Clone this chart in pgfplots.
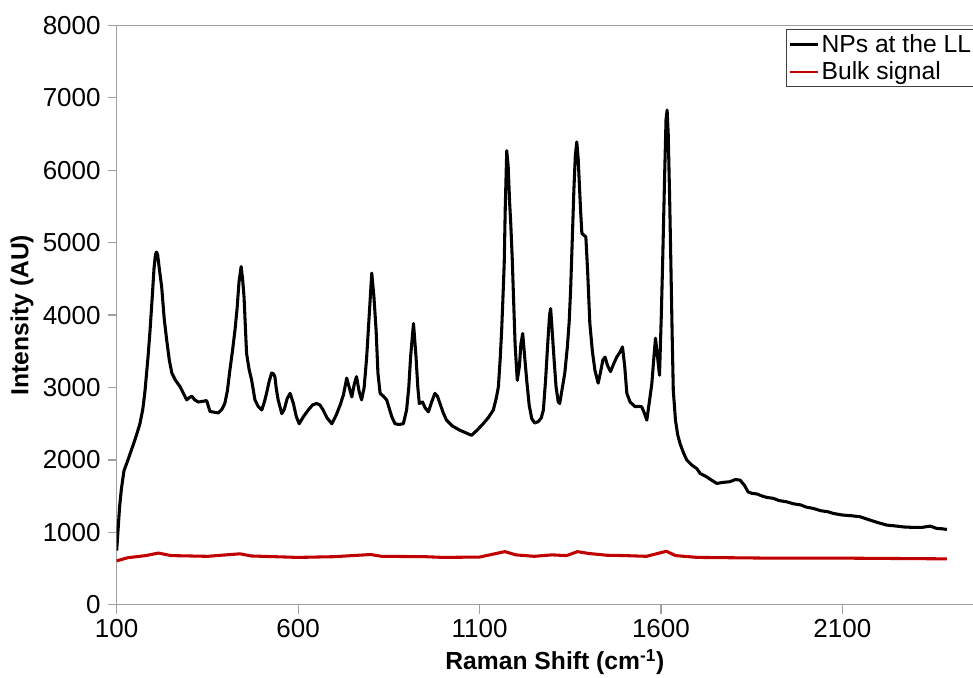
\documentclass[border=0pt]{standalone}
\usepackage{fontspec}
\setmainfont{Liberation Sans}
\usepackage{pgfplots}
\pgfplotsset{compat=1.18}
\definecolor{axgray}{RGB}{160,160,160}
\definecolor{bulkred}{RGB}{192,0,0}
\begin{document}
\begin{tikzpicture}
\path[use as bounding box] (-87.5pt,-54.2pt) rectangle (642.18pt,453.6pt);
\begin{axis}[
  at={(0pt,0pt)}, anchor=south west,
  scale only axis,
  width=644.9pt, height=434.6pt,
  xmin=100, xmax=2470, ymin=0, ymax=8000,
  xtick={100,600,1100,1600,2100},
  ytick={0,1000,...,8000},
  axis line style={axgray, line width=0.9pt},
  tick style={axgray, line width=0.9pt},
  tick align=outside,
  major tick length=6.5pt,
  xtick pos=bottom, ytick pos=left,
  /pgf/number format/assume math mode=true,
  /pgf/number format/1000 sep={},
  ticklabel style={font=\fontsize{19.5}{22}\selectfont, black},
  yticklabel style={xshift=-2pt},
  xticklabel style={yshift=-1pt},
  xlabel={\textbf{Raman Shift (cm\textsuperscript{-1})}},
  ylabel={\textbf{Intensity (AU)}},
  xlabel style={at={(axis description cs:0.5095,0)}, anchor=center, yshift=-43pt, font=\fontsize{18.5}{20}\selectfont},
  ylabel style={at={(axis description cs:-0.1101,0.5)}, anchor=center, rotate=0, font=\fontsize{18.5}{20}\selectfont},
  legend style={at={(rel axis cs:0.778,0.9936)}, anchor=north west, draw=black!75, line width=0.8pt, font=\fontsize{18.5}{22}\selectfont, inner sep=1.5pt, row sep=2pt, cells={anchor=west}},
  legend image code/.code={\draw[#1, line width=2pt] (0pt,0pt) -- (21pt,0pt);},
]
\addplot[black, line width=2.3pt, line join=round] coordinates {
(100,750)(104,1050)(108,1350)(113,1600)(120,1850)(131,2000)(145,2200)(155,2350)(164,2500)(172,2700)(178,2950)(186,3400)(192,3790)(198,4250)(203,4650)(207,4840)(210,4870)(213,4830)(218,4620)(224,4390)(231,3950)(238,3650)(245,3380)(252,3200)(262,3100)(275,3010)(284,2920)(293,2830)(300,2860)(307,2880)(315,2830)(325,2800)(338,2810)(348,2820)(357,2670)(368,2660)(380,2650)(390,2700)(398,2780)(405,2950)(412,3240)(419,3500)(426,3790)(432,4100)(437,4450)(443,4670)(447,4500)(451,4250)(455,3800)(458,3470)(465,3250)(472,3100)(481,2830)(490,2740)(500,2690)(507,2800)(513,2920)(520,3080)(527,3200)(532,3190)(536,3150)(540,2980)(545,2830)(555,2640)(562,2700)(570,2850)(578,2920)(587,2780)(595,2600)(603,2500)(615,2600)(628,2690)(640,2760)(651,2780)(660,2760)(669,2690)(680,2580)(693,2500)(705,2620)(716,2760)(725,2900)(734,3130)(741,3000)(748,2870)(755,3050)(761,3150)(768,2950)(775,2830)(782,3000)(789,3420)(796,4000)(803,4580)(809,4250)(815,3790)(820,3200)(826,2920)(835,2880)(844,2830)(858,2600)(867,2500)(878,2490)(890,2500)(899,2690)(905,3000)(910,3420)(918,3885)(925,3420)(930,3000)(934,2780)(943,2800)(950,2720)(959,2665)(968,2800)(977,2920)(984,2880)(991,2780)(1000,2650)(1009,2550)(1025,2470)(1046,2410)(1060,2380)(1078,2340)(1095,2420)(1110,2500)(1125,2590)(1138,2690)(1146,2850)(1152,3010)(1157,3400)(1161,3790)(1165,4300)(1168,4710)(1171,5500)(1175,6270)(1179,6050)(1183,5550)(1186,5270)(1190,4800)(1193,4345)(1198,3600)(1204,3100)(1210,3300)(1214,3600)(1219,3745)(1224,3450)(1230,3100)(1237,2750)(1244,2570)(1252,2510)(1262,2530)(1270,2580)(1276,2690)(1282,3100)(1288,3610)(1293,4000)(1296,4090)(1300,3800)(1305,3420)(1311,3000)(1317,2800)(1321,2780)(1327,2960)(1335,3200)(1342,3560)(1347,3900)(1351,4345)(1356,5100)(1360,5725)(1364,6200)(1368,6390)(1372,6150)(1375,5820)(1379,5400)(1382,5130)(1388,5100)(1393,5080)(1398,4600)(1404,3885)(1411,3500)(1418,3240)(1427,3060)(1433,3200)(1440,3380)(1446,3420)(1453,3300)(1461,3220)(1470,3330)(1478,3420)(1486,3480)(1494,3560)(1500,3300)(1506,2920)(1515,2800)(1529,2735)(1538,2740)(1547,2735)(1554,2650)(1561,2550)(1568,2800)(1575,3060)(1581,3450)(1585,3680)(1590,3450)(1596,3170)(1601,4000)(1605,4800)(1610,5900)(1614,6700)(1617,6830)(1620,6500)(1624,5600)(1627,4800)(1631,3700)(1634,2960)(1640,2550)(1646,2350)(1653,2220)(1662,2100)(1671,2000)(1685,1930)(1699,1880)(1708,1814)(1725,1770)(1740,1720)(1754,1676)(1770,1690)(1790,1700)(1805,1730)(1818,1722)(1830,1650)(1840,1560)(1850,1540)(1865,1530)(1880,1500)(1892,1483)(1910,1470)(1925,1440)(1947,1422)(1965,1395)(1985,1380)(2000,1350)(2020,1331)(2040,1300)(2060,1285)(2075,1262)(2100,1240)(2125,1230)(2149,1216)(2170,1180)(2195,1140)(2222,1101)(2245,1090)(2270,1075)(2296,1069)(2320,1070)(2342,1087)(2360,1055)(2375,1050)(2388,1041)
};
\addlegendentry{NPs at the LL}
\addplot[bulkred, line width=2.3pt, line join=round] coordinates {
(100,607)(130,650)(180,680)(215,715)(250,680)(350,670)(440,705)(470,675)(600,655)(700,665)(800,695)(830,670)(950,665)(1000,655)(1100,660)(1170,735)(1200,690)(1250,670)(1300,690)(1340,680)(1370,735)(1400,710)(1450,685)(1500,680)(1560,670)(1615,740)(1640,680)(1700,655)(1900,645)(2100,645)(2388,635)
};
\addlegendentry{Bulk signal}
\end{axis}
\end{tikzpicture}
\end{document}
